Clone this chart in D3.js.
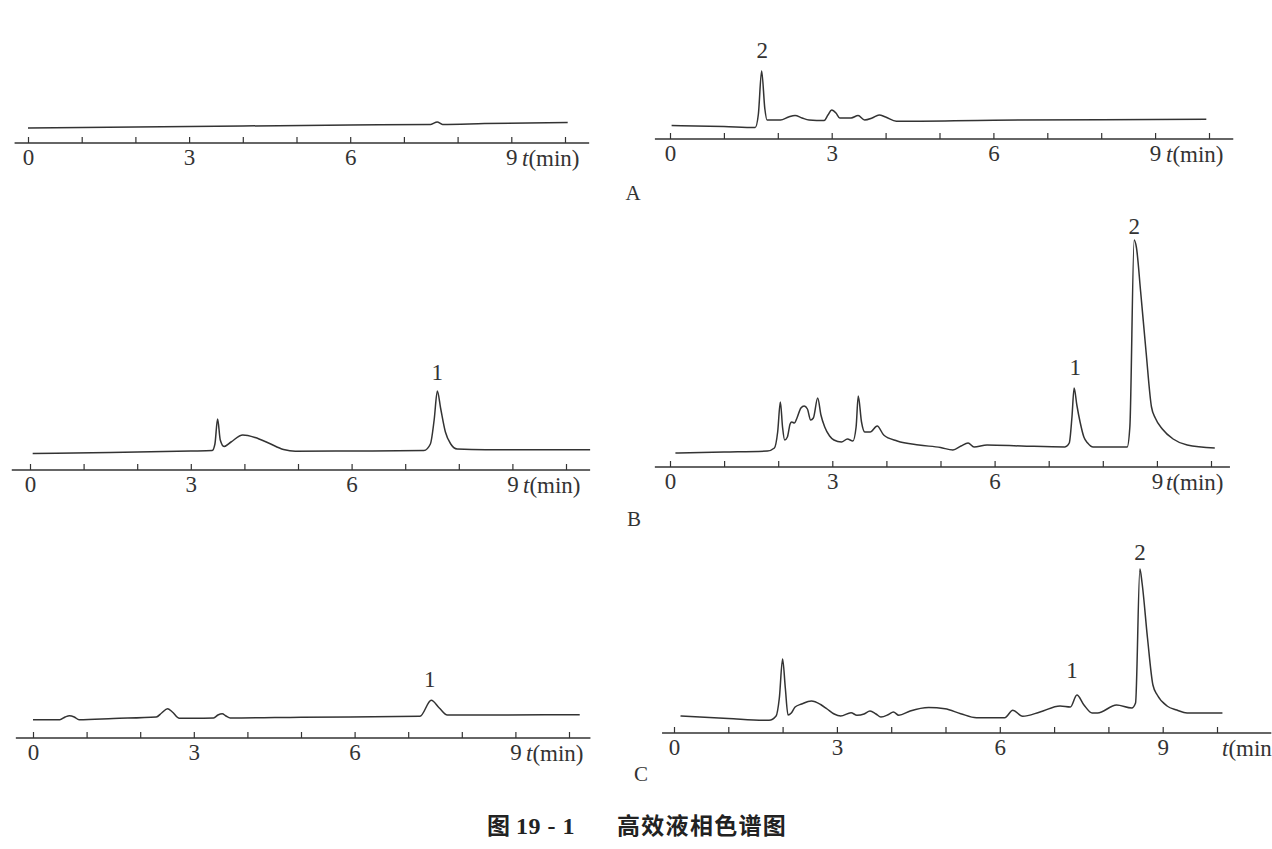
<!DOCTYPE html>
<html>
<head>
<meta charset="utf-8">
<script src="https://cdn.jsdelivr.net/npm/d3@7"></script>
<style>
  html, body { margin: 0; padding: 0; background: #fff; }
  svg { display: block; }
</style>
</head>
<body>
<svg id="chart" width="1272" height="849"></svg>
<script>
// ---------------- DATA ----------------
const minorTicks = [0, 1, 2, 3, 4, 5, 6, 7, 8, 9, 10];
const majorTicks = [0, 3, 6, 9];
const majorTickLabels = ["0", "3", "6", "9"];
const panelLetters = ["A", "B", "C"];
const titleFig = "图";
const titleNum = "19-1";
const titleText = "高效液相色谱图";

// [time (min), detector response (arbitrary units)]
const traceA1 = [[0,15],[2,16],[4,17],[6,18],[7.5,18.6],[7.62,21],[7.72,18.6],[8.5,19.4],[10.05,20.5]];
const traceA2 = [[0.03,13.5],[1.0,12.5],[1.58,11.5],[1.64,25],[1.7,68],[1.76,30],[1.8,19],[2.05,19],[2.2,22],[2.32,23.5],[2.45,21],[2.58,19],[2.86,18.5],[2.93,24],[3.0,29],[3.08,26],[3.15,21],[3.36,21],[3.49,23.5],[3.61,19],[3.75,21],[3.88,24],[4.0,22],[4.2,17.8],[6,18.8],[8,19.3],[9.95,19.8]];
const traceB1 = [[0.05,16.5],[1.5,17.5],[3.0,19],[3.4,19.5],[3.45,26],[3.5,51],[3.55,30],[3.62,23.5],[3.75,28],[3.97,35],[4.2,32.5],[4.45,27],[4.73,20.5],[4.95,18.7],[6,19],[7.35,19.5],[7.47,26],[7.54,50],[7.6,79],[7.66,62],[7.75,38],[7.85,26],[7.97,21],[8.5,20.3],[10.45,20.3]];
const traceB2 = [[0.1,14],[1.0,15],[1.8,16],[1.93,19],[1.99,35],[2.04,65],[2.08,40],[2.12,27],[2.17,30],[2.22,43],[2.25,45],[2.3,44],[2.34,48],[2.42,59],[2.48,61],[2.54,58],[2.6,47],[2.65,49],[2.73,69],[2.79,52],[2.86,40],[2.95,31],[3.03,27],[3.17,25],[3.28,28],[3.38,26],[3.44,40],[3.48,71],[3.54,45],[3.6,35],[3.7,35],[3.83,41],[3.95,32],[4.2,26],[4.6,22],[5.0,19.5],[5.23,17],[5.38,21],[5.51,24],[5.62,20],[5.86,22],[6.5,21],[7.3,20],[7.38,24],[7.43,50],[7.47,79],[7.52,62],[7.58,45],[7.65,30],[7.72,24],[7.82,20],[8.45,20],[8.5,40],[8.58,227],[8.62,220],[8.7,175],[8.8,115],[8.9,60],[8.97,49],[9.1,38],[9.3,28],[9.56,22],[10.07,19]];
const traceC1 = [[0,18.3],[0.5,18.3],[0.6,21],[0.68,22.3],[0.77,21],[0.86,18.3],[1.5,19.5],[2.3,21],[2.4,25],[2.51,29.3],[2.6,26],[2.73,19.7],[3.0,19.7],[3.37,20],[3.45,23],[3.53,24.3],[3.6,22],[3.68,20],[5,20.8],[7.22,21.7],[7.43,37.7],[7.58,30],[7.73,23],[8.5,23],[10.2,23.3]];
const traceC2 = [[0.12,17],[1.0,14.5],[1.75,12.7],[1.88,17],[1.94,35],[2.0,74],[2.05,45],[2.1,18],[2.16,20],[2.23,26],[2.35,29],[2.53,32],[2.7,28.5],[2.82,24],[2.95,19],[3.07,17],[3.26,20.3],[3.37,17.7],[3.5,19],[3.61,22],[3.72,19],[3.81,16],[3.95,18.5],[4.04,21],[4.14,17.7],[4.35,22],[4.69,25.5],[4.99,24.3],[5.28,19.3],[5.57,15.3],[6.09,15.3],[6.24,22.7],[6.42,16.7],[6.74,21],[7.11,27],[7.3,26],[7.42,38],[7.55,28],[7.7,20],[7.8,20],[8.15,28],[8.43,25],[8.5,30],[8.58,164],[8.62,150],[8.72,95],[8.82,48],[8.9,38],[9.08,27],[9.26,23],[9.45,20],[10.1,20]];

// peak identification labels: [label, retention time]
const peaksA1 = [];
const peaksA2 = [["2", 1.71]];
const peaksB1 = [["1", 7.6]];
const peaksB2 = [["1", 7.49], ["2", 8.58]];
const peaksC1 = [["1", 7.4]];
const peaksC2 = [["1", 7.33], ["2", 8.58]];

// ---------------- LAYOUT ----------------
const panels = [
  { data: traceA1, peaks: peaksA1, x0: 28,  unit: 53.7, axisY: 143, axStart: -0.25, axEnd: 10.45, unitX: 522,  peakDy: [] },
  { data: traceA2, peaks: peaksA2, x0: 670, unit: 53.9, axisY: 139, axStart: -0.28, axEnd: 10.45, unitX: 1166, peakDy: [13] },
  { data: traceB1, peaks: peaksB1, x0: 30,  unit: 53.6, axisY: 470, axStart: -0.34, axEnd: 10.45, unitX: 523,  peakDy: [11] },
  { data: traceB2, peaks: peaksB2, x0: 670, unit: 54.1, axisY: 467, axStart: -0.28, axEnd: 10.35, unitX: 1166, peakDy: [13, 6] },
  { data: traceC1, peaks: peaksC1, x0: 33,  unit: 53.6, axisY: 738, axStart: -0.32, axEnd: 10.4,  unitX: 526,  peakDy: [13] },
  { data: traceC2, peaks: peaksC2, x0: 674, unit: 54.3, axisY: 733, axStart: -0.22, axEnd: 11.0,  unitX: 1222, peakDy: [17, 9] }
];
const letterPos = [[633, 200], [634, 526], [641, 781]];

const ink = "#333";
const serif = "'Liberation Serif', 'DejaVu Serif', serif";
const svg = d3.select("#chart");

panels.forEach(p => {
  const x = d3.scaleLinear().domain([0, 10]).range([p.x0, p.x0 + 10 * p.unit]);
  const y = d3.scaleLinear().domain([0, 250]).range([p.axisY, p.axisY - 250]);
  const g = svg.append("g");

  // axis baseline
  g.append("line")
    .attr("x1", x(p.axStart)).attr("x2", x(p.axEnd))
    .attr("y1", p.axisY).attr("y2", p.axisY)
    .attr("stroke", ink).attr("stroke-width", 1.4);

  // minor ticks (upward)
  const tickAxis = g.append("g").attr("transform", `translate(0,${p.axisY})`)
    .call(d3.axisTop(x).tickValues(minorTicks).tickSize(6).tickSizeOuter(0).tickFormat(""));
  tickAxis.select(".domain").remove();
  tickAxis.selectAll("line").attr("stroke", ink).attr("stroke-width", 1.2);

  // tick labels
  const lab = g.append("g").attr("transform", `translate(0,${p.axisY})`)
    .call(d3.axisBottom(x).tickValues(majorTicks).tickSize(0).tickPadding(6)
      .tickFormat((d, i) => majorTickLabels[i]));
  lab.select(".domain").remove();
  lab.selectAll("text").attr("font-family", serif).attr("font-size", 23).attr("fill", ink);

  // unit label t(min)
  const u = g.append("text").attr("x", p.unitX).attr("y", p.axisY + 23)
    .attr("font-family", serif).attr("font-size", 23).attr("fill", ink);
  u.append("tspan").attr("font-style", "italic").text("t");
  u.append("tspan").text("(min)");

  // chromatogram trace
  const line = d3.line().x(d => x(d[0])).y(d => y(d[1])).curve(d3.curveMonotoneX);
  g.append("path").datum(p.data).attr("d", line)
    .attr("fill", "none").attr("stroke", ink).attr("stroke-width", 1.5)
    .attr("stroke-linejoin", "round");

  // peak labels
  p.peaks.forEach((pk, i) => {
    const near = p.data.filter(d => Math.abs(d[0] - pk[1]) < 0.15);
    const top = d3.max(near, d => d[1]);
    g.append("text").attr("x", x(pk[1])).attr("y", y(top) - p.peakDy[i])
      .attr("text-anchor", "middle").attr("font-family", serif)
      .attr("font-size", 23).attr("fill", ink).text(pk[0]);
  });
});

// panel letters
panelLetters.forEach((L, i) => {
  svg.append("text").attr("x", letterPos[i][0]).attr("y", letterPos[i][1])
    .attr("text-anchor", "middle").attr("font-family", serif)
    .attr("font-size", 21).attr("fill", ink).text(L);
});

// title
const cjk = "'Noto Sans CJK SC', sans-serif";
svg.append("text").attr("x", 487).attr("y", 834).attr("font-family", cjk)
  .attr("font-weight", "bold").attr("font-size", 23).attr("fill", "#222").text(titleFig);
svg.append("text").attr("x", 516).attr("y", 834).attr("font-family", serif)
  .attr("font-weight", "bold").attr("font-size", 24).attr("fill", "#222")
  .attr("letter-spacing", 0.5).text(titleNum.replace("-", " - "));
svg.append("text").attr("x", 617).attr("y", 834).attr("font-family", cjk)
  .attr("font-weight", "bold").attr("font-size", 23).attr("letter-spacing", 1.3)
  .attr("fill", "#222").text(titleText);
</script>
</body>
</html>
